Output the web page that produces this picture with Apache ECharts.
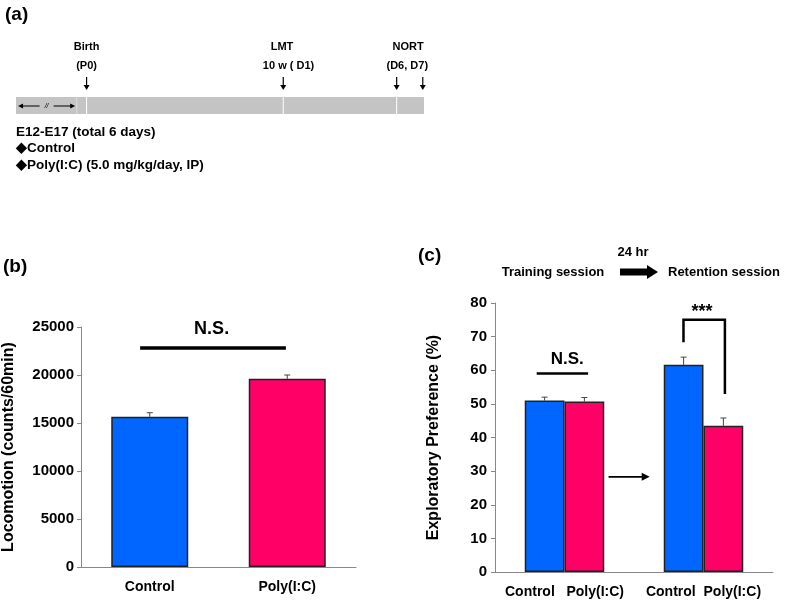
<!DOCTYPE html>
<html><head><meta charset="utf-8">
<script src="https://cdn.jsdelivr.net/npm/echarts@6/dist/echarts.min.js"></script>
<style>html,body{margin:0;padding:0;background:#fff}#c{width:787px;height:601px}</style>
</head><body><div id="c"></div>
<script>
// ---------- Panel (a): timeline (positions in % of the bar) ----------
const timelineDividers = [14.9, 17.3, 65.5, 93.3];
const timelineArrows = [17.3, 65.5, 93.3, 99.7];
const timelineTitles = ['Birth', 'LMT', 'NORT'];
const timelineSubtitles = ['(P0)', '10 w ( D1)', '(D6, D7)'];
const timelineTitlePos = [17.3, 65.2, 96.1];
const timelineSubPos = [17.3, 66.8, 95.9];
const timelineGap = [0.5, 14.5];
const treatmentLines = ['E12-E17 (total 6 days)', '\u25C6Control', '\u25C6Poly(I:C) (5.0 mg/kg/day, IP)'];

// ---------- Panel (b): locomotion ----------
const locoCategories = ['Control', 'Poly(I:C)'];
const locoMeans = [15650, 19600];
const locoErrors = [420, 400];
const locoNS = [-0.07, 0.99, 22800];
const locoNSText = [0.45, 24800];

// ---------- Panel (c): exploratory preference ----------
const prefCategories = ['Control   Poly(I:C)', 'Control  Poly(I:C)'];
const prefControl = [51.0, 61.6];
const prefControlErr = [1.0, 2.3];
const prefPoly = [50.7, 43.5];
const prefPolyErr = [1.2, 2.3];
const prefNS = [-0.2, 0.17, 59.0];
const prefNSText = [0.02, 63.2];
const prefBracket = [1, -0.144, 0.154, 75.0, 68.3, 52.9];
const prefStarsText = [0.99, 77.4];
const prefArrow = [0.317, 0.613, 28.3];

const BOLD = 'Liberation Sans, Arial, sans-serif';
const BAR_C = 0.286;

function errRender(frac, sign) {
  return function (params, api) {
    const c = api.value(0), v = api.value(1), e = api.value(2);
    const band = api.size([1, 0])[0];
    const p0 = api.coord([c, v]);
    const p1 = api.coord([c, v + e]);
    const x = p0[0] + sign * band * frac / 2;
    return { type: 'group', children: [
      { type: 'line', shape: { x1: x, y1: p0[1], x2: x, y2: p1[1] }, style: { stroke: '#444', lineWidth: 1 } },
      { type: 'line', shape: { x1: x - 3, y1: p1[1], x2: x + 3, y2: p1[1] }, style: { stroke: '#444', lineWidth: 1 } }
    ] };
  };
}
function hLineRender(width) {
  return function (params, api) {
    const band = api.size([1, 0])[0];
    const y = api.value(2);
    const base = api.coord([0, y]);
    return { type: 'line', shape: { x1: base[0] + api.value(0) * band, y1: base[1], x2: base[0] + api.value(1) * band, y2: base[1] },
      style: { stroke: '#000', lineWidth: width } };
  };
}
function textRender(txt, size) {
  return function (params, api) {
    const band = api.size([1, 0])[0];
    const base = api.coord([0, api.value(1)]);
    return { type: 'text', x: base[0] + api.value(0) * band, y: base[1],
      style: { text: txt, font: 'bold ' + size + 'px ' + BOLD, fill: '#000', align: 'center', verticalAlign: 'middle' } };
  };
}

const chart = echarts.init(document.getElementById('c'), null, { renderer: 'canvas' });

const axisLabelStyle = { color: '#000', fontWeight: 'bold', fontFamily: BOLD };
const plainNum = v => String(v);

chart.setOption({
  animation: false,
  backgroundColor: '#fff',
  grid: [
    { left: 80, right: 431, top: 327, bottom: 34 },
    { left: 495, right: 14, top: 303, bottom: 29 },
    { left: 16, width: 408, top: 97, height: 17 }
  ],
  xAxis: [
    { gridIndex: 0, type: 'category', data: locoCategories, boundaryGap: true,
      axisLine: { lineStyle: { color: '#888', width: 1 } }, axisTick: { length: 4, lineStyle: { color: '#888' } },
      axisLabel: Object.assign({ fontSize: 14, margin: 13, interval: 0 }, axisLabelStyle) },
    { gridIndex: 1, type: 'category', data: prefCategories, boundaryGap: true,
      axisLine: { lineStyle: { color: '#888', width: 1 } }, axisTick: { length: 4, lineStyle: { color: '#888' } },
      axisLabel: Object.assign({ fontSize: 14, margin: 13, interval: 0, hideOverlap: false }, axisLabelStyle) },
    { gridIndex: 2, type: 'value', min: 0, max: 100, show: false }
  ],
  yAxis: [
    { gridIndex: 0, type: 'value', min: 0, max: 25000, interval: 5000,
      name: 'Locomotion (counts/60min)', nameLocation: 'middle', nameGap: 64,
      nameTextStyle: { fontSize: 16, fontWeight: 'bold', color: '#000', fontFamily: BOLD },
      axisLine: { show: true, lineStyle: { color: '#888', width: 1 } }, axisTick: { show: true, length: 4, lineStyle: { color: '#888' } },
      splitLine: { show: false }, axisLabel: Object.assign({ fontSize: 15, margin: 7, formatter: plainNum }, axisLabelStyle) },
    { gridIndex: 1, type: 'value', min: 0, max: 80, interval: 10,
      name: 'Exploratory Preference (%)', nameLocation: 'middle', nameGap: 53,
      nameTextStyle: { fontSize: 16, fontWeight: 'bold', color: '#000', fontFamily: BOLD },
      axisLine: { show: true, lineStyle: { color: '#888', width: 1 } }, axisTick: { show: true, length: 4, lineStyle: { color: '#888' } },
      splitLine: { show: false }, axisLabel: Object.assign({ fontSize: 15, margin: 8, formatter: plainNum }, axisLabelStyle) },
    { gridIndex: 2, type: 'value', min: 0, max: 1, show: false }
  ],
  series: [
    // ---- panel (b)
    { type: 'bar', xAxisIndex: 0, yAxisIndex: 0, barWidth: '56%',
      data: locoMeans.map((v, i) => ({ value: v, itemStyle: { color: i === 0 ? '#0066FF' : '#FF0066' } })),
      itemStyle: { borderColor: '#222', borderWidth: 1.5 }, z: 3 },
    { type: 'custom', xAxisIndex: 0, yAxisIndex: 0, renderItem: errRender(0, 0), z: 2,
      data: locoMeans.map((v, i) => [i, v, locoErrors[i]]) },
    { type: 'custom', xAxisIndex: 0, yAxisIndex: 0, renderItem: hLineRender(3.5), data: [locoNS] },
    { type: 'custom', xAxisIndex: 0, yAxisIndex: 0, renderItem: textRender('N.S.', 18), data: [locoNSText] },
    // ---- panel (c)
    { type: 'bar', xAxisIndex: 1, yAxisIndex: 1, barWidth: (BAR_C * 100) + '%', barGap: '0%', data: prefControl,
      itemStyle: { color: '#0066FF', borderColor: '#222', borderWidth: 1.5 }, z: 3 },
    { type: 'bar', xAxisIndex: 1, yAxisIndex: 1, barWidth: (BAR_C * 100) + '%', barGap: '0%', data: prefPoly,
      itemStyle: { color: '#FF0066', borderColor: '#222', borderWidth: 1.5 }, z: 3 },
    { type: 'custom', xAxisIndex: 1, yAxisIndex: 1, renderItem: errRender(BAR_C, -1), z: 2,
      data: prefControl.map((v, i) => [i, v, prefControlErr[i]]) },
    { type: 'custom', xAxisIndex: 1, yAxisIndex: 1, renderItem: errRender(BAR_C, 1), z: 2,
      data: prefPoly.map((v, i) => [i, v, prefPolyErr[i]]) },
    { type: 'custom', xAxisIndex: 1, yAxisIndex: 1, renderItem: hLineRender(2.5), data: [prefNS] },
    { type: 'custom', xAxisIndex: 1, yAxisIndex: 1, renderItem: textRender('N.S.', 17), data: [prefNSText] },
    { type: 'custom', xAxisIndex: 1, yAxisIndex: 1, data: [prefBracket],
      renderItem: function (params, api) {
        const band = api.size([1, 0])[0];
        const c = api.value(0);
        const xl = api.coord([c, 0])[0] + api.value(1) * band;
        const xr = api.coord([c, 0])[0] + api.value(2) * band;
        const yt = api.coord([c, api.value(3)])[1];
        const yl = api.coord([c, api.value(4)])[1];
        const yr = api.coord([c, api.value(5)])[1];
        return { type: 'polyline', shape: { points: [[xl, yl], [xl, yt], [xr, yt], [xr, yr]] },
          style: { stroke: '#000', lineWidth: 2.5, fill: null } };
      } },
    { type: 'custom', xAxisIndex: 1, yAxisIndex: 1, renderItem: textRender('***', 18), data: [prefStarsText] },
    { type: 'custom', xAxisIndex: 1, yAxisIndex: 1, data: [prefArrow],
      renderItem: function (params, api) {
        const band = api.size([1, 0])[0];
        const base = api.coord([0, api.value(2)]);
        const x1 = base[0] + api.value(0) * band, x2 = base[0] + api.value(1) * band, y = base[1];
        return { type: 'group', children: [
          { type: 'line', shape: { x1: x1, y1: y, x2: x2 - 6, y2: y }, style: { stroke: '#000', lineWidth: 1.8 } },
          { type: 'polygon', shape: { points: [[x2, y], [x2 - 8, y - 4], [x2 - 8, y + 4]] }, style: { fill: '#000' } }
        ] };
      } },
    // ---- panel (a): timeline
    { type: 'custom', xAxisIndex: 2, yAxisIndex: 2, data: [[0, 100]],
      renderItem: function (params, api) {
        const a = api.coord([api.value(0), 0]), b = api.coord([api.value(1), 1]);
        const children = [{ type: 'rect', shape: { x: a[0], y: b[1], width: b[0] - a[0], height: a[1] - b[1] }, style: { fill: '#c4c4c4' } }];
        timelineDividers.forEach((d, i) => {
          const p = api.coord([d, 0]);
          children.push({ type: 'line', shape: { x1: p[0], y1: b[1], x2: p[0], y2: a[1] }, style: { stroke: i === 0 ? '#dedede' : '#fff', lineWidth: 1 } });
        });
        const g0 = api.coord([timelineGap[0], 0.5]), g1 = api.coord([timelineGap[1], 0.5]);
        const gy = g0[1] + 0.5;
        const mid = (g0[0] + g1[0]) / 2;
        children.push({ type: 'line', shape: { x1: g0[0] + 4, y1: gy, x2: mid - 7, y2: gy }, style: { stroke: '#000', lineWidth: 1 } });
        children.push({ type: 'line', shape: { x1: mid + 7, y1: gy, x2: g1[0] - 4, y2: gy }, style: { stroke: '#000', lineWidth: 1 } });
        children.push({ type: 'polygon', shape: { points: [[g0[0], gy], [g0[0] + 5, gy - 2.5], [g0[0] + 5, gy + 2.5]] }, style: { fill: '#000' } });
        children.push({ type: 'polygon', shape: { points: [[g1[0], gy], [g1[0] - 5, gy - 2.5], [g1[0] - 5, gy + 2.5]] }, style: { fill: '#000' } });
        children.push({ type: 'text', x: mid, y: gy, style: { text: '//', font: 'italic 7px ' + BOLD, fill: '#000', align: 'center', verticalAlign: 'middle' } });
        timelineArrows.forEach(d => {
          const p = api.coord([d, 1]);
          children.push({ type: 'line', shape: { x1: p[0], y1: p[1] - 20, x2: p[0], y2: p[1] - 10 }, style: { stroke: '#000', lineWidth: 1.2 } });
          children.push({ type: 'polygon', shape: { points: [[p[0], p[1] - 7], [p[0] - 3, p[1] - 12], [p[0] + 3, p[1] - 12]] }, style: { fill: '#000' } });
        });
        timelineTitles.forEach((t, i) => {
          const p = api.coord([timelineTitlePos[i], 1]);
          children.push({ type: 'text', x: p[0], y: 47, style: { text: t, font: 'bold 11px ' + BOLD, fill: '#000', align: 'center', verticalAlign: 'middle' } });
          const q = api.coord([timelineSubPos[i], 1]);
          children.push({ type: 'text', x: q[0], y: 66, style: { text: timelineSubtitles[i], font: 'bold 11px ' + BOLD, fill: '#000', align: 'center', verticalAlign: 'middle' } });
        });
        treatmentLines.forEach((t, i) => {
          children.push({ type: 'text', x: a[0], y: 132 + i * 16.7, style: { text: t, font: 'bold 13.5px ' + BOLD, fill: '#000', align: 'left', verticalAlign: 'middle' } });
        });
        return { type: 'group', children: children };
      } }
  ],
  graphic: [
    { type: 'text', left: 5, top: 5, style: { text: '(a)', font: 'bold 19px ' + BOLD, fill: '#000' } },
    { type: 'text', left: 3, top: 257, style: { text: '(b)', font: 'bold 19px ' + BOLD, fill: '#000' } },
    { type: 'text', left: 418, top: 246, style: { text: '(c)', font: 'bold 19px ' + BOLD, fill: '#000' } },
    { type: 'text', x: 633, y: 252, style: { text: '24 hr', font: 'bold 13px ' + BOLD, fill: '#000', align: 'center', verticalAlign: 'middle' } },
    { type: 'text', x: 553, y: 272, style: { text: 'Training session', font: 'bold 13px ' + BOLD, fill: '#000', align: 'center', verticalAlign: 'middle' } },
    { type: 'text', x: 668, y: 272, style: { text: 'Retention session', font: 'bold 13px ' + BOLD, fill: '#000', align: 'left', verticalAlign: 'middle' } },
    { type: 'polygon', shape: { points: [[620, 268.5], [647, 268.5], [647, 265], [658, 272], [647, 279], [647, 275.5], [620, 275.5]] }, style: { fill: '#000' } }
  ]
});
</script>
</body></html>
